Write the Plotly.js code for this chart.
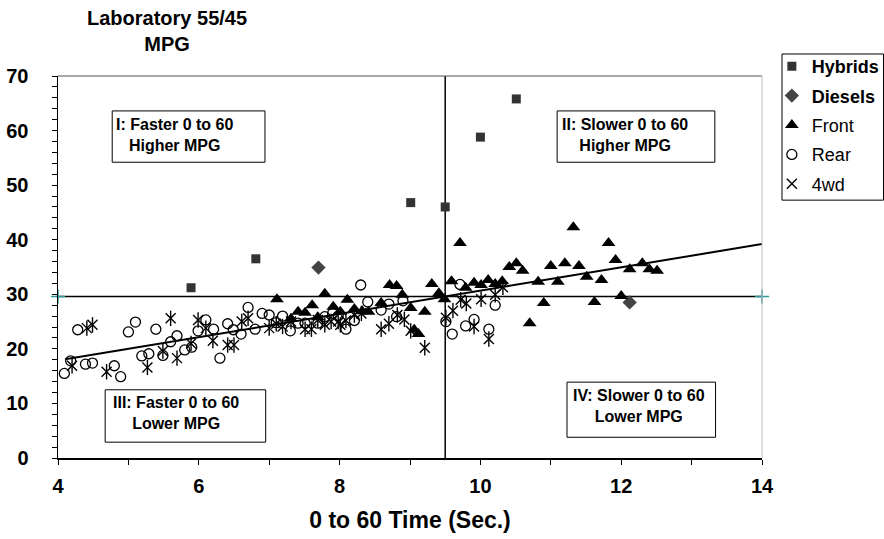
<!DOCTYPE html>
<html>
<head>
<meta charset="utf-8">
<script src="https://cdn.plot.ly/plotly-3.0.1.min.js"></script>
<style>
  html, body { margin: 0; padding: 0; background: #fff; }
  #chart { width: 884px; height: 539px; }
</style>
</head>
<body>
<div id="chart"></div>
<script>
// 0-60 acceleration time (s) vs. laboratory 55/45 combined MPG

const hybridX = [5.89, 6.81, 9.01, 9.50, 10.00, 10.51];
const hybridY = [31.2, 36.5, 46.8, 46.0, 58.8, 65.8];

const dieselX = [7.70, 12.12];
const dieselY = [34.9, 28.5];

const frontX = [7.11, 7.31, 7.41, 7.51, 7.61, 7.69, 7.79, 7.91, 8.01, 8.11,
                8.21, 8.32, 8.41, 8.59, 8.71, 8.81, 8.89, 9.01, 9.06, 9.12,
                9.21, 9.31, 9.41, 9.49, 9.59, 9.71, 9.79, 9.91, 10.01, 10.11,
                10.21, 10.31, 10.41, 10.51, 10.60, 10.70, 10.82, 10.90, 11.00, 11.10,
                11.20, 11.32, 11.40, 11.51, 11.62, 11.72, 11.82, 11.92, 12.00, 12.12,
                12.30, 12.40, 12.51];
const frontY = [29.1, 25.5, 26.8, 26.6, 28.0, 25.8, 30.1, 27.7, 26.8, 29.0,
                27.3, 26.9, 26.8, 28.4, 31.7, 31.5, 29.9, 27.5, 23.5, 22.7,
                26.8, 31.9, 30.2, 29.1, 32.4, 39.4, 31.2, 32.1, 31.7, 32.6,
                31.9, 32.4, 35.0, 35.7, 34.3, 24.7, 32.3, 28.4, 35.2, 32.3,
                35.7, 42.3, 35.2, 33.2, 28.6, 32.6, 39.4, 36.3, 29.7, 34.6,
                35.7, 34.6, 34.3];

const rearX = [3.99, 4.09, 4.18, 4.28, 4.39, 4.49, 4.80, 4.89, 5.00, 5.10,
               5.19, 5.29, 5.39, 5.49, 5.60, 5.69, 5.80, 5.90, 5.99, 6.10,
               6.21, 6.30, 6.41, 6.49, 6.60, 6.70, 6.80, 6.90, 7.00, 7.10,
               7.19, 7.30, 7.41, 7.51, 7.69, 7.79, 7.90, 7.98, 8.09, 8.21,
               8.30, 8.40, 8.59, 8.70, 8.81, 8.90, 9.51, 9.60, 9.71, 9.79,
               9.91, 10.12, 10.21];
const rearY = [15.2, 15.5, 17.8, 23.5, 17.2, 17.4, 16.9, 14.9, 23.1, 24.9,
               18.7, 19.1, 23.6, 18.8, 21.3, 22.4, 19.8, 20.3, 23.3, 25.3,
               23.6, 18.3, 24.6, 23.5, 22.7, 27.6, 23.6, 26.5, 26.2, 24.8,
               26.0, 23.3, 24.7, 24.7, 24.7, 25.9, 26.5, 26.0, 23.6, 25.2,
               31.7, 28.6, 27.1, 28.2, 25.9, 28.8, 25.0, 22.7, 31.8, 24.2,
               25.4, 23.6, 28.0];

const awdX = [3.99, 4.20, 4.41, 4.49, 4.69, 5.27, 5.49, 5.60, 5.69, 5.89,
              5.99, 6.10, 6.20, 6.41, 6.50, 6.61, 6.70, 7.00, 7.10, 7.19,
              7.31, 7.51, 7.60, 7.69, 7.79, 7.88, 7.98, 8.01, 8.09, 8.21,
              8.31, 8.59, 8.70, 8.82, 8.92, 9.01, 9.21, 9.51, 9.61, 9.72,
              9.80, 9.91, 10.01, 10.12, 10.21, 10.32];
const awdY = [13.7, 16.9, 23.8, 24.4, 15.8, 16.6, 19.6, 25.6, 18.3, 21.0,
              25.3, 23.8, 21.5, 20.7, 20.7, 25.0, 25.6, 23.8, 24.6, 24.1,
              25.0, 23.6, 23.6, 25.3, 24.4, 25.0, 25.0, 24.4, 25.2, 26.2,
              26.5, 23.6, 24.6, 26.2, 25.4, 23.3, 20.2, 25.7, 27.0, 29.0,
              28.3, 24.1, 29.1, 21.8, 29.9, 31.3];

// linear trend through all vehicles, extended to the axis end
const trendX = [4.1, 14.0];
const trendY = [18.1, 39.2];

// quadrant dividers: average MPG and average 0-60 time
const avgMpgX = [4, 14];
const avgMpgY = [29.6, 29.6];
const avgTimeX = [9.5, 9.5];
const avgTimeY = [0, 70];

const xTicks = [4, 6, 8, 10, 12, 14];
const yTicks = [0, 10, 20, 30, 40, 50, 60, 70];

const quadrantLabels = [
  'I: Faster 0 to 60<br>Higher MPG',
  'II: Slower 0 to 60<br>Higher MPG',
  'III: Faster 0 to 60<br>Lower MPG',
  'IV: Slower 0 to 60<br>Lower MPG'
];

const FONT = 'Liberation Sans, Arial, sans-serif';
const TEAL = '#2e9a9a';

const traces = [
  {
    x: avgTimeX, y: avgTimeY, mode: 'lines', showlegend: false, hoverinfo: 'skip',
    line: { color: '#000', width: 1.5 }
  },
  {
    x: avgMpgX, y: avgMpgY, mode: 'lines+markers', showlegend: false, hoverinfo: 'skip',
    line: { color: '#000', width: 1.5 },
    marker: { symbol: 'cross-thin-open', size: 10, color: TEAL, line: { color: TEAL, width: 1.5 } },
    cliponaxis: false
  },
  {
    name: '<b>Hybrids</b>', legendgroup: 'a', x: hybridX, y: hybridY, mode: 'markers', type: 'scatter',
    marker: { symbol: 'square', size: 9, color: '#333333' }
  },
  {
    name: '<b>Diesels</b>', legendgroup: 'b', x: dieselX, y: dieselY, mode: 'markers',
    marker: { symbol: 'diamond', size: 11, color: '#444444' }
  },
  {
    name: 'Front', legendgroup: 'c', x: frontX, y: frontY, mode: 'markers',
    marker: { symbol: 'triangle-up', size: 12, color: '#000' }
  },
  {
    name: 'Rear', legendgroup: 'd', x: rearX, y: rearY, mode: 'markers',
    marker: { symbol: 'circle-open', size: 10, color: '#000', line: { width: 1.3, color: '#000' } }
  },
  {
    name: '4wd', legendgroup: 'e', x: awdX, y: awdY, mode: 'markers',
    marker: { symbol: 'x-thin-open', size: 10, color: '#000', line: { width: 1.4, color: '#000' } }
  },
  {
    // vertical stroke completing the asterisk marker
    legendgroup: 'e', showlegend: false, x: awdX, y: awdY, mode: 'markers', hoverinfo: 'skip',
    marker: { symbol: 'line-ns-open', size: 11, color: '#000', line: { width: 1.4, color: '#000' } }
  },
  {
    x: trendX, y: trendY, mode: 'lines', showlegend: false, hoverinfo: 'skip',
    line: { color: '#000', width: 2 }
  }
];

const boxFont = { family: FONT, size: 16, color: '#000', weight: 'bold' };

function quadBox(x0, x1, y0, y1) {
  return { type: 'rect', xref: 'x', yref: 'y', x0, x1, y0, y1,
           line: { color: '#000', width: 1 }, fillcolor: '#fff', layer: 'above' };
}

const layout = {
  width: 884, height: 539,
  margin: { l: 58, r: 122, t: 76, b: 81, autoexpand: false },
  paper_bgcolor: '#fff', plot_bgcolor: '#fff',
  font: { family: FONT, color: '#000' },
  showlegend: true,
  legend: {
    x: 1.014, y: 1.0733, xanchor: 'left', yanchor: 'top',
    font: { family: FONT, size: 18, color: '#000' },
    borderwidth: 0, bgcolor: 'rgba(0,0,0,0)',
    traceorder: 'grouped', tracegroupgap: 3
  },
  xaxis: {
    range: [4, 14], tickvals: xTicks, ticktext: xTicks.map(String),
    showgrid: false, zeroline: false,
    showline: true, linecolor: '#000', linewidth: 1.5,
    ticks: 'outside', ticklen: 5, tickcolor: '#000', tickwidth: 1,
    minor: { dtick: 1, ticks: 'outside', ticklen: 5, tickcolor: '#000', tickwidth: 1 },
    tickfont: { family: FONT, size: 20, weight: 'bold', color: '#000' },
    ticklabelstandoff: 4,
    title: { text: '0 to 60 Time (Sec.)', font: { family: FONT, size: 23, weight: 'bold', color: '#000' }, standoff: 16 }
  },
  yaxis: {
    range: [0, 70], tickvals: yTicks, ticktext: yTicks.map(String),
    showgrid: false, zeroline: false,
    showline: true, linecolor: '#000', linewidth: 1.5,
    ticks: 'outside', ticklen: 5, tickcolor: '#000', tickwidth: 1,
    minor: { dtick: 2, ticks: 'outside', ticklen: 5, tickcolor: '#000', tickwidth: 1 },
    tickfont: { family: FONT, size: 20, weight: 'bold', color: '#000' },
    ticklabelstandoff: 19
  },
  shapes: [
    { type: 'line', xref: 'paper', yref: 'paper', x0: 0, x1: 1, y0: 1, y1: 1, line: { color: '#555', width: 1 } },
    { type: 'line', xref: 'paper', yref: 'paper', x0: 1, x1: 1, y0: 0, y1: 1, line: { color: '#bbb', width: 1 } },
    // legend frame
    { type: 'rect', xref: 'paper', yref: 'paper', x0: 1.0284, x1: 1.1726, y0: 0.675, y1: 1.0576,
      line: { color: '#000', width: 1 }, fillcolor: 'rgba(0,0,0,0)' },
    quadBox(4.77, 6.94, 54.2, 63.6),
    quadBox(11.09, 13.33, 54.2, 63.6),
    quadBox(4.67, 6.95, 2.9, 12.5),
    quadBox(11.23, 13.34, 3.8, 13.9)
  ],
  annotations: [
    { text: 'Laboratory 55/45<br>MPG', xref: 'paper', yref: 'paper', x: 0.155, y: 1.185,
      xanchor: 'center', yanchor: 'top', showarrow: false, align: 'center',
      font: { family: FONT, size: 20, weight: 'bold', color: '#000' } },
    { text: quadrantLabels[0], x: 5.65, y: 59.2, xref: 'x', yref: 'y', showarrow: false, align: 'center', font: boxFont },
    { text: quadrantLabels[1], x: 12.05, y: 59.2, xref: 'x', yref: 'y', showarrow: false, align: 'center', font: boxFont },
    { text: quadrantLabels[2], x: 5.67, y: 8.2, xref: 'x', yref: 'y', showarrow: false, align: 'center', font: boxFont },
    { text: quadrantLabels[3], x: 12.25, y: 9.5, xref: 'x', yref: 'y', showarrow: false, align: 'center', font: boxFont }
  ]
};

Plotly.newPlot('chart', traces, layout, { staticPlot: true, displayModeBar: false });
</script>
</body>
</html>
